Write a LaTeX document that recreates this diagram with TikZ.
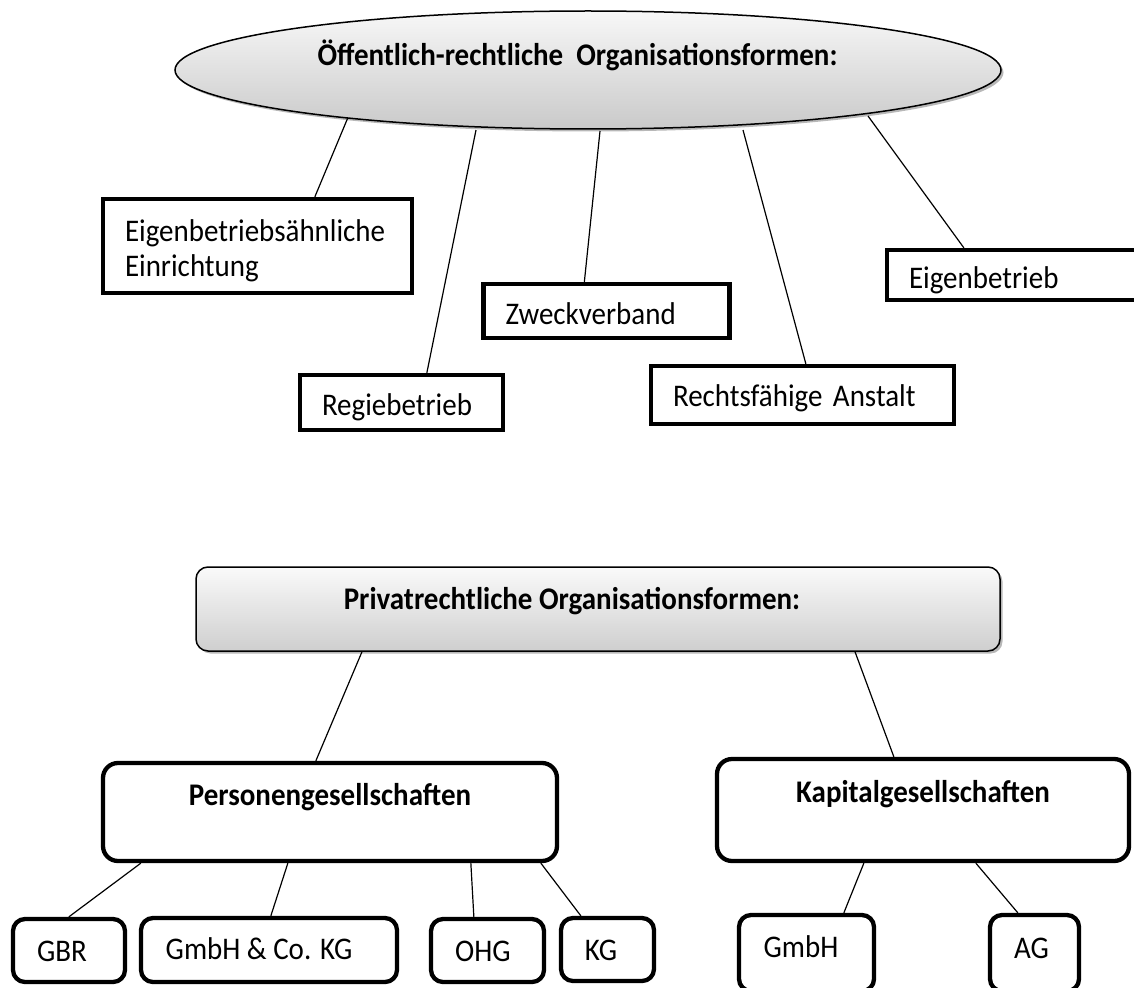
\documentclass[tikz,border=0pt]{standalone}
\usepackage{fontspec}
\setmainfont{Carlito}[FakeStretch=0.92]
\usetikzlibrary{shapes.geometric,shadows,backgrounds}
\newcommand{\padr}[1]{\rule{#1}{0pt}}
\tikzset{
  txt/.style={font=\fontsize{31.5}{35}\selectfont},
  btxt/.style={font=\fontsize{31.5}{35}\selectfont\bfseries},
  shad/.style={drop shadow={shadow xshift=2.5pt,shadow yshift=-2.5pt,opacity=0.28,fill=black}},
  lshad/.style={drop shadow={shadow xshift=1.5pt,shadow yshift=-1.5pt,opacity=0.12,fill=black}},
  conn/.style={draw=black,line width=1.2pt},
  sbox/.style={txt,rectangle,draw=black,line width=4.3pt,fill=white,lshad,
               inner xsep=22pt,inner ysep=0pt,align=left},
  rrbox/.style={rectangle,rounded corners=12pt,draw=black,line width=4.3pt,fill=white,lshad,
               inner xsep=4pt,inner ysep=0pt},
  tb/.style 2 args={text height=#1,text depth=#2},
  ellnode/.style={btxt,ellipse,draw=black,line width=1.5pt,top color=gray!6,bottom color=gray!42,
               shad,minimum width=826pt,minimum height=118pt,inner sep=0pt},
  privnode/.style={btxt,rectangle,rounded corners=12pt,draw=black,line width=1.5pt,
               top color=gray!4,bottom color=gray!38,shad,minimum width=804pt,minimum height=84pt,inner sep=0pt}
}
\begin{document}
\begin{tikzpicture}[x=1pt,y=-1pt]
\useasboundingbox (0,0) rectangle (1134,987);

% ---- public-law part
\node[ellnode,tb={16pt}{24pt}] (ell) at (588,70) {Öffentlich-rechtliche\ \ Organisationsformen:\padr{21pt}};

\node[sbox,text width=265pt,minimum height=94pt] (eba) at (257.5,246) {\rule{0pt}{31pt}Eigenbetriebsähnliche\\Einrichtung};
\node[sbox,text width=159pt,minimum height=55pt,tb={32.5pt}{7.5pt}] (regie) at (401.5,402.5) {Regiebetrieb};
\node[sbox,text width=202pt,minimum height=54pt,tb={33pt}{7pt}] (zweck) at (606.5,311) {Zweckverband};
\node[sbox,text width=259pt,minimum height=58pt,tb={31pt}{9pt}] (rfa) at (802.5,395) {Rechtsfähige Anstalt};
\node[sbox,text width=227pt,minimum height=50pt,tb={33pt}{7pt}] (eigen) at (1022.5,275) {Eigenbetrieb};

% ---- private-law part
\node[privnode,tb={20pt}{20pt}] (priv) at (598,609) {Privatrechtliche Organisationsformen:\padr{52pt}};

\node[rrbox,btxt,rounded corners=15pt,minimum width=454pt,minimum height=98pt,tb={13pt}{27pt}] (pers) at (330,812) {Personengesellschaften};
\node[rrbox,btxt,rounded corners=15pt,minimum width=412pt,minimum height=102pt,tb={12pt}{28pt}] (kap) at (923,810) {Kapitalgesellschaften};

\node[rrbox,txt,minimum width=112pt,minimum height=63pt,tb={30.5pt}{9.5pt}] (gbr) at (69,950.5) {GBR\padr{14pt}};
\node[rrbox,txt,minimum width=256pt,minimum height=64pt,tb={29pt}{11pt}] (gco) at (269,950) {GmbH \& Co. KG\padr{20pt}};
\node[rrbox,txt,minimum width=113pt,minimum height=63pt,tb={30.5pt}{9.5pt}] (ohg) at (487.5,950.5) {OHG\padr{9pt}};
\node[rrbox,txt,minimum width=93pt,minimum height=63pt,tb={31pt}{9pt}] (kg) at (607.5,949.5) {KG\padr{13pt}};
\node[rrbox,txt,minimum width=135pt,minimum height=76pt,tb={24pt}{16pt}] (gmbh) at (806.5,953) {GmbH\padr{11pt}};
\node[rrbox,txt,minimum width=89pt,minimum height=76pt,tb={25pt}{15pt}] (ag) at (1034.5,953) {AG\padr{6pt}};

\begin{scope}[on background layer]
  \draw[conn] ([xshift=-239pt,yshift=-45pt]ell.center) -- ([xshift=214pt]eba.north west);
  \draw[conn] ([xshift=-112pt,yshift=-60pt]ell.center) -- ([xshift=129pt]regie.north west);
  \draw[conn] ([xshift=12pt,yshift=-61pt]ell.center) -- ([xshift=103pt]zweck.north west);
  \draw[conn] ([xshift=155pt,yshift=-60pt]ell.center) -- ([xshift=157pt]rfa.north west);
  \draw[conn] ([xshift=280pt,yshift=-46pt]ell.center) -- ([xshift=79pt]eigen.north west);

  \draw[conn] ([xshift=-236pt]priv.south) -- ([xshift=215pt]pers.north west);
  \draw[conn] ([xshift=257pt]priv.south) -- ([xshift=179pt]kap.north west);

  \draw[conn] ([xshift=40pt]pers.south west) -- ([xshift=58pt]gbr.north west);
  \draw[conn] ([xshift=187pt]pers.south west) -- ([xshift=132pt]gco.north west);
  \draw[conn] ([xshift=370pt]pers.south west) -- ([xshift=45pt]ohg.north west);
  \draw[conn] ([xshift=440pt]pers.south west) -- ([xshift=22pt]kg.north west);

  \draw[conn] ([xshift=149pt]kap.south west) -- ([xshift=107pt]gmbh.north west);
  \draw[conn] ([xshift=261pt]kap.south west) -- ([xshift=30pt]ag.north west);
\end{scope}
\end{tikzpicture}
\end{document}
